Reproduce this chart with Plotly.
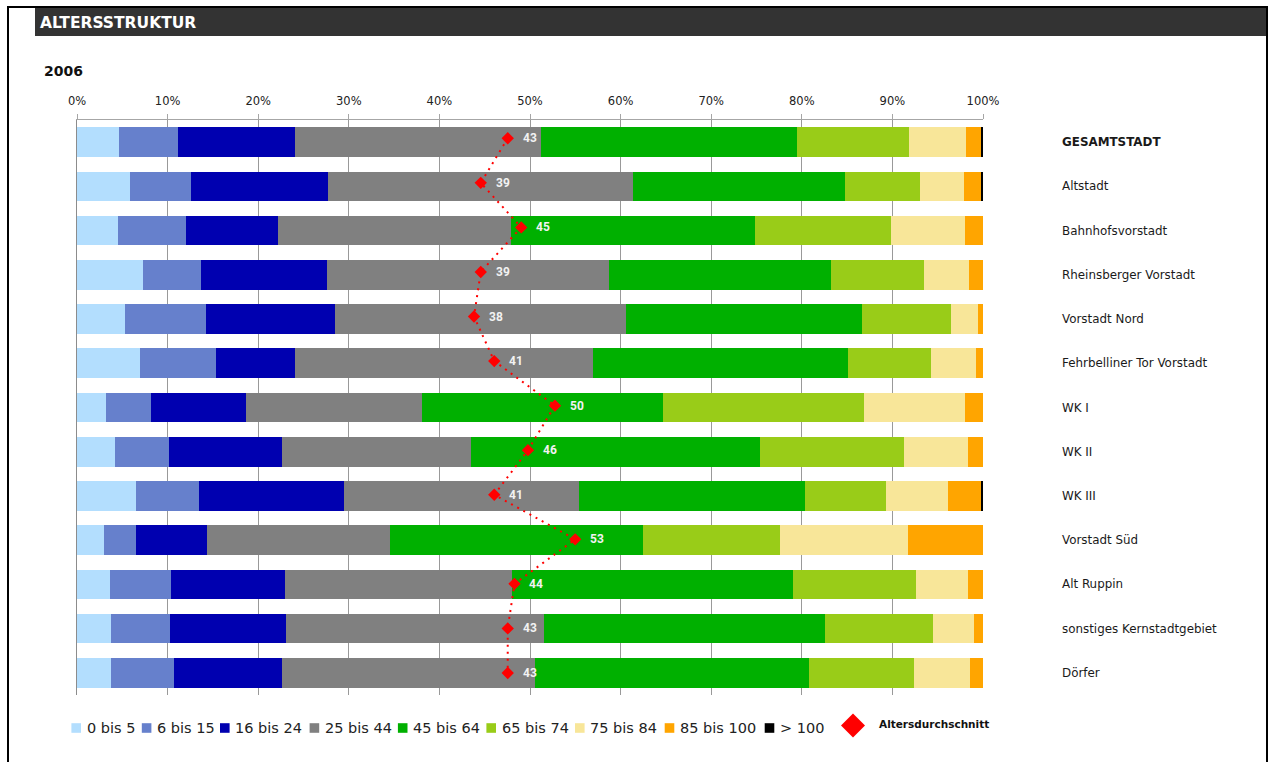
import plotly.graph_objects as go

# Districts, top to bottom
districts = [
    "GESAMTSTADT", "Altstadt", "Bahnhofsvorstadt", "Rheinsberger Vorstadt",
    "Vorstadt Nord", "Fehrbelliner Tor Vorstadt", "WK I", "WK II", "WK III",
    "Vorstadt Süd", "Alt Ruppin", "sonstiges Kernstadtgebiet", "Dörfer",
]

age_groups = ["0 bis 5", "6 bis 15", "16 bis 24", "25 bis 44", "45 bis 64",
              "65 bis 74", "75 bis 84", "85 bis 100", "> 100"]

# Share of population per age group (percent), one value per district
share_0_5 = [4.6, 5.9, 4.5, 7.3, 5.3, 7.0, 3.2, 4.2, 6.5, 3.0, 3.6, 3.7, 3.8]
share_6_15 = [6.6, 6.7, 7.5, 6.4, 8.9, 8.3, 5.0, 6.0, 7.0, 3.5, 6.8, 6.6, 6.9]
share_16_24 = [12.9, 15.1, 10.2, 13.9, 14.3, 8.8, 10.4, 12.4, 16.0, 7.8, 12.6, 12.8, 11.9]
share_25_44 = [27.1, 33.7, 25.7, 31.1, 32.1, 32.8, 19.5, 20.9, 25.9, 20.3, 25.0, 28.4, 28.0]
share_45_64 = [28.3, 23.4, 26.9, 24.5, 26.0, 28.2, 26.6, 31.9, 25.0, 27.9, 31.0, 31.1, 30.2]
share_65_74 = [12.3, 8.2, 15.0, 10.3, 9.9, 9.2, 22.2, 15.9, 8.9, 15.1, 13.6, 11.9, 11.6]
share_75_84 = [6.3, 4.9, 8.2, 4.9, 2.9, 4.9, 11.1, 7.0, 6.8, 14.1, 5.7, 4.5, 6.2]
share_85_100 = [1.7, 1.9, 2.0, 1.6, 0.6, 0.8, 2.0, 1.7, 3.7, 8.3, 1.7, 1.0, 1.4]
share_over_100 = [0.2, 0.2, 0.0, 0.0, 0.0, 0.0, 0.0, 0.0, 0.2, 0.0, 0.0, 0.0, 0.0]

# Average age per district
avg_age = [43, 39, 45, 39, 38, 41, 50, 46, 41, 53, 44, 43, 43]

x_ticks = [0, 10, 20, 30, 40, 50, 60, 70, 80, 90, 100]
x_tick_labels = [f"{t}%" for t in x_ticks]

shares = [share_0_5, share_6_15, share_16_24, share_25_44, share_45_64,
          share_65_74, share_75_84, share_85_100, share_over_100]
colors = ["#B3DEFE", "#6680CC", "#0000B0", "#808080", "#00B000",
          "#99CC18", "#F8E699", "#FFA500", "#000000"]

# Page geometry (pixels)
W, H = 1270, 762
ML, MR, MT, MB = 77, 287, 120, 67
PW, PH = W - ML - MR, H - MT - MB


def px(x):
    return (x - ML) / PW


def py(y):
    return (H - MB - y) / PH


fig = go.Figure()

for name, vals, col in zip(age_groups, shares, colors):
    fig.add_trace(go.Bar(
        y=districts, x=vals, name=name, orientation="h",
        marker=dict(color=col, line=dict(width=0)),
        hovertemplate="%{y}: %{x}%<extra>" + name + "</extra>",
    ))

# Average age: dotted red line with diamonds on a secondary scale
fig.add_trace(go.Scatter(
    x=avg_age, y=list(range(len(districts))), xaxis="x2", yaxis="y2",
    mode="lines+markers", name="Altersdurchschnitt",
    line=dict(color="#FF0000", width=2, dash="2px,5px"),
    marker=dict(symbol="diamond", size=9.5, color="#FF0000"),
    cliponaxis=False,
))

annotations = []
for i, a in enumerate(avg_age):
    annotations.append(dict(
        x=a, y=i, xref="x2", yref="y2", text=str(a), showarrow=False,
        xanchor="left", yanchor="middle", xshift=13,
        font=dict(family="Roboto", size=12, color="#F2F2F2", weight="bold"),
    ))

# District names to the right of the bars
for d in districts:
    label = "<b>" + d + "</b>" if d == "GESAMTSTADT" else d
    annotations.append(dict(
        x=px(1060), y=d, xref="paper", yref="y", text=label, showarrow=False,
        xanchor="left", yanchor="middle",
        font=dict(family="DejaVu Sans", size=11.9, color="#1A1A1A"),
    ))

# Header and year label
annotations.append(dict(
    x=px(38), y=py(22.5), xref="paper", yref="paper", text="<b>ALTERSSTRUKTUR</b>",
    showarrow=False, xanchor="left", yanchor="middle",
    font=dict(family="DejaVu Sans", size=15.5, color="#FFFFFF"),
))
annotations.append(dict(
    x=px(41.5), y=py(70.5), xref="paper", yref="paper", text="<b>2006</b>",
    showarrow=False, xanchor="left", yanchor="middle",
    font=dict(family="DejaVu Sans", size=14, color="#111111"),
))

shapes = [
    # outer frame
    dict(type="line", xref="paper", yref="paper", x0=px(8), x1=px(8), y0=py(7), y1=py(775),
         line=dict(color="#000000", width=2)),
    dict(type="line", xref="paper", yref="paper", x0=px(7), x1=px(1268), y0=py(7), y1=py(7),
         line=dict(color="#000000", width=2)),
    dict(type="line", xref="paper", yref="paper", x0=px(1267), x1=px(1267), y0=py(7), y1=py(775),
         line=dict(color="#000000", width=2)),
    # header band
    dict(type="rect", xref="paper", yref="paper", x0=px(35), x1=px(1266), y0=py(36), y1=py(8),
         fillcolor="#333333", line=dict(width=0)),
]

# Legend row below the chart
legend_sq_x = [71.4, 141.8, 220.0, 309.6, 397.9, 486.4, 575.0, 664.7, 764.7]
sq = 9.6
leg_y = 728
for name, col, x0 in zip(age_groups, colors, legend_sq_x):
    shapes.append(dict(type="rect", xref="paper", yref="paper",
                       x0=px(x0), x1=px(x0 + sq), y0=py(leg_y + sq / 2), y1=py(leg_y - sq / 2),
                       fillcolor=col, line=dict(width=0)))
    annotations.append(dict(
        x=px(x0 + sq + 3.5), y=py(leg_y), xref="paper", yref="paper", text=name,
        showarrow=False, xanchor="left", yanchor="middle",
        font=dict(family="DejaVu Sans", size=14.5, color="#222222"),
    ))

dcx, dcy, dr = 853, 725.5, 12
shapes.append(dict(
    type="path", xref="paper", yref="paper",
    path=(f"M {px(dcx - dr)},{py(dcy)} L {px(dcx)},{py(dcy - dr)} "
          f"L {px(dcx + dr)},{py(dcy)} L {px(dcx)},{py(dcy + dr)} Z"),
    fillcolor="#FF0000", line=dict(width=0),
))
annotations.append(dict(
    x=px(877), y=py(724), xref="paper", yref="paper", text="<b>Altersdurchschnitt</b>",
    showarrow=False, xanchor="left", yanchor="middle",
    font=dict(family="DejaVu Sans", size=10.5, color="#111111"),
))

fig.update_layout(
    width=W, height=H,
    margin=dict(l=ML, r=MR, t=MT, b=MB, pad=0),
    paper_bgcolor="#FFFFFF", plot_bgcolor="#FFFFFF",
    barmode="stack", bargap=0.33,
    showlegend=False,
    xaxis=dict(
        range=[0, 100], side="top", tickmode="array",
        tickvals=x_ticks, ticktext=x_tick_labels,
        showgrid=True, gridcolor="#999999", gridwidth=1,
        showline=True, linecolor="#A6A6A6", linewidth=1,
        ticks="outside", ticklen=5, tickcolor="#A6A6A6",
        ticklabelstandoff=4,
        tickfont=dict(family="DejaVu Sans", size=11.5, color="#222222"),
        zeroline=False, fixedrange=True,
    ),
    xaxis2=dict(overlaying="x", range=[-20.84, 113.44], visible=False, fixedrange=True),
    yaxis=dict(
        categoryorder="array", categoryarray=districts, range=[12.5, -0.5],
        showticklabels=False, showgrid=False, zeroline=False,
        showline=True, linecolor="#8C8C8C", linewidth=1, ticks="", fixedrange=True,
    ),
    yaxis2=dict(overlaying="y", range=[12.494, -0.41], visible=False, fixedrange=True),
    annotations=annotations,
    shapes=shapes,
)

fig.write_html("out.html")
